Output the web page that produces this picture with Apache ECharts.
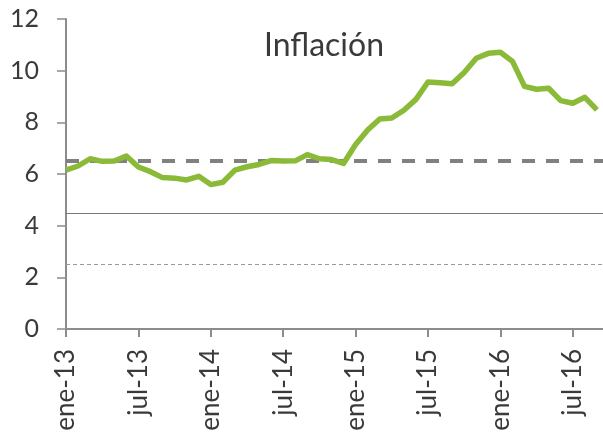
<!DOCTYPE html>
<html>
<head>
<meta charset="utf-8">
<script src="https://cdn.jsdelivr.net/npm/echarts@6/dist/echarts.min.js"></script>
<style>
  html, body { margin: 0; padding: 0; background: #fff; }
  #chart { width: 603px; height: 434px; }
</style>
</head>
<body>
<div id="chart"></div>
<script>
// months ene-13 .. oct-16 (oct-16 left empty, the axis runs past the last point)
const months = [
  'ene-13', 'feb-13', 'mar-13', 'abr-13', 'may-13', 'jun-13', 'jul-13', 'ago-13', 'sep-13', 'oct-13', 'nov-13', 'dic-13',
  'ene-14', 'feb-14', 'mar-14', 'abr-14', 'may-14', 'jun-14', 'jul-14', 'ago-14', 'sep-14', 'oct-14', 'nov-14', 'dic-14',
  'ene-15', 'feb-15', 'mar-15', 'abr-15', 'may-15', 'jun-15', 'jul-15', 'ago-15', 'sep-15', 'oct-15', 'nov-15', 'dic-15',
  'ene-16', 'feb-16', 'mar-16', 'abr-16', 'may-16', 'jun-16', 'jul-16', 'ago-16', 'sep-16', 'oct-16'
]
const inflacion = [
  6.15, 6.31, 6.59, 6.49, 6.50, 6.70, 6.27, 6.09, 5.86, 5.84, 5.77, 5.91,
  5.59, 5.68, 6.15, 6.28, 6.37, 6.52, 6.50, 6.51, 6.75, 6.59, 6.56, 6.41,
  7.14, 7.70, 8.13, 8.17, 8.47, 8.89, 9.56, 9.53, 9.49, 9.93, 10.48, 10.67,
  10.71, 10.36, 9.39, 9.28, 9.32, 8.84, 8.74, 8.97, 8.48, null
]
const limiteSuperior = 6.5
const meta = 4.5
const limiteInferior = 2.5
const shownLabels = ['ene-13', 'jul-13', 'ene-14', 'jul-14', 'ene-15', 'jul-15', 'ene-16', 'jul-16']

const chart = echarts.init(document.getElementById('chart'))
const font = 'Lato'
const axisGray = '#8c8c8c'

chart.setOption({
  backgroundColor: '#fff',
  animation: false,
  title: {
    text: 'Inflación',
    left: 259,
    top: 25,
    textStyle: { fontFamily: font, fontSize: 32, fontWeight: 'normal', color: '#3a3a3a' }
  },
  // plot runs past the right edge of the picture, as in the original
  grid: { left: 66, width: 543, top: 19, bottom: 105, outerBoundsMode: 'none' },
  xAxis: {
    type: 'category',
    data: months,
    boundaryGap: false,
    axisLine: { lineStyle: { color: axisGray, width: 2 } },
    axisTick: {
      length: 8,
      lineStyle: { color: axisGray, width: 2 },
      interval: (i, v) => shownLabels.includes(v)
    },
    axisLabel: {
      rotate: 90,
      margin: 20,
      fontFamily: font,
      fontSize: 26,
      color: '#3a3a3a',
      interval: (i, v) => shownLabels.includes(v)
    },
    splitLine: { show: false }
  },
  yAxis: {
    type: 'value',
    min: 0,
    max: 12,
    interval: 2,
    axisLine: { show: true, lineStyle: { color: axisGray, width: 2 } },
    axisTick: { show: true, inside: false, length: 9, lineStyle: { color: axisGray, width: 1.5 } },
    axisLabel: { margin: 27, fontFamily: font, fontSize: 25, color: '#3a3a3a' },
    splitLine: { show: false }
  },
  series: [
    {
      name: 'Inflación',
      type: 'line',
      data: inflacion,
      symbol: 'none',
      z: 5,
      lineStyle: { color: '#8aba38', width: 5.5, join: 'round' },
      markLine: {
        silent: true,
        symbol: 'none',
        label: { show: false },
        data: [
          { yAxis: limiteSuperior, lineStyle: { color: '#808080', width: 4, type: [13, 11] } },
          { yAxis: meta, lineStyle: { color: '#7a7a7a', width: 1.2, type: 'solid' } },
          { yAxis: limiteInferior, lineStyle: { color: '#9a9a9a', width: 1.2, type: [4, 3] } }
        ]
      }
    }
  ]
})
</script>
</body>
</html>
